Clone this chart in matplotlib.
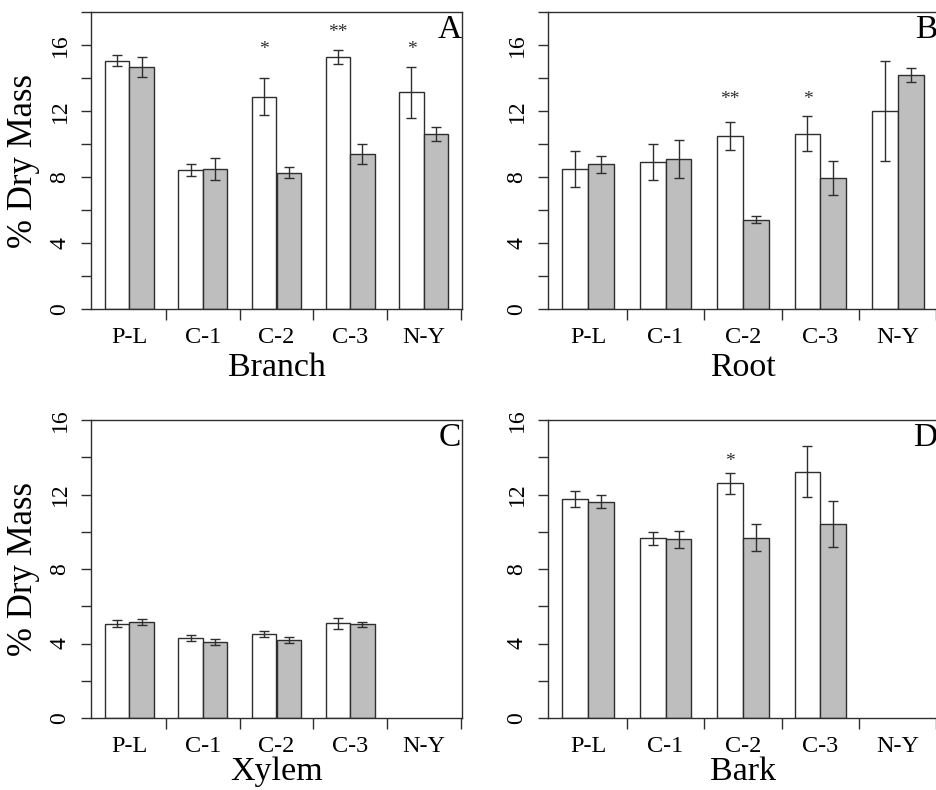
"""Four-panel grouped bar chart of % dry mass by tissue and site."""

import matplotlib
matplotlib.use("Agg")
import matplotlib.pyplot as plt
import numpy as np

plt.rcParams["font.family"] = ["Liberation Serif", "DejaVu Serif"]

SITES = ["P-L", "C-1", "C-2", "C-3", "N-Y"]

# Branch (A)
branch_white = [15.05, 8.41, 12.87, 15.27, 13.14]
branch_white_err = [0.33, 0.37, 1.12, 0.43, 1.55]
branch_grey = [14.69, 8.47, 8.27, 9.40, 10.61]
branch_grey_err = [0.60, 0.67, 0.34, 0.60, 0.40]
branch_stars = ["", "", "*", "**", "*"]
branch_star_y = [np.nan, np.nan, 15.95, 16.97, 15.95]

# Root (B)
root_white = [8.47, 8.90, 10.49, 10.61, 12.0]
root_white_err = [1.08, 1.11, 0.83, 1.06, 3.03]
root_grey = [8.76, 9.08, 5.41, 7.93, 14.18]
root_grey_err = [0.50, 1.15, 0.20, 1.01, 0.40]
root_stars = ["", "", "**", "*", ""]
root_star_y = [np.nan, np.nan, 12.93, 12.93, np.nan]

# Xylem (C)
xylem_white = [5.07, 4.30, 4.52, 5.09, np.nan]
xylem_white_err = [0.18, 0.18, 0.16, 0.30, np.nan]
xylem_grey = [5.16, 4.09, 4.19, 5.03, np.nan]
xylem_grey_err = [0.18, 0.16, 0.15, 0.13, np.nan]
xylem_stars = ["", "", "", "", ""]
xylem_star_y = [np.nan] * 5

# Bark (D)
bark_white = [11.77, 9.64, 12.61, 13.21, np.nan]
bark_white_err = [0.43, 0.33, 0.56, 1.37, np.nan]
bark_grey = [11.61, 9.59, 9.69, 10.43, np.nan]
bark_grey_err = [0.34, 0.45, 0.75, 1.23, np.nan]
bark_stars = ["", "", "*", "", ""]
bark_star_y = [np.nan, np.nan, 13.94, np.nan, np.nan]

LINE = "#2e2e2e"
GREY = "#BEBEBE"
W, H = 937, 790


def _panel(fig, rect, white, white_err, grey, grey_err, stars, star_y,
           xlabel, letter, ymax, ylabel=None, xlabel_y=-0.198):
    ax = fig.add_axes(rect)
    n = len(SITES)
    start = 1 + 3 * np.arange(n)
    xw = start + 0.5
    xg = start + 1.5

    ax.bar(xw, white, width=1.0, color="white", edgecolor=LINE, linewidth=1.0, zorder=2)
    ax.bar(xg, grey, width=1.0, color=GREY, edgecolor=LINE, linewidth=1.0, zorder=2)
    ax.errorbar(xw, white, yerr=white_err, fmt="none", ecolor=LINE,
                elinewidth=1.0, capsize=3.6, capthick=1.0, zorder=3)
    ax.errorbar(xg, grey, yerr=grey_err, fmt="none", ecolor=LINE,
                elinewidth=1.0, capsize=3.6, capthick=1.0, zorder=3)

    # significance marks above the white bars
    for x, s, y in zip(xw, stars, star_y):
        if s:
            ax.annotate(s, (x, y), xytext=(0, -2.5), textcoords="offset points",
                        ha="center", va="center", fontsize=14, color=LINE)

    ax.set_xlim(0.44, 15.56)
    ax.set_ylim(0, ymax)

    ax.set_xticks(start + 1.0)
    ax.set_xticklabels(SITES)
    ax.set_xticks(start + 2.5, minor=True)
    ax.tick_params(axis="x", which="major", length=0, pad=13, labelsize=17.5)
    ax.tick_params(axis="x", which="minor", length=8, width=1.0, color=LINE,
                   direction="out")

    ax.set_yticks(np.arange(0, 17, 4))
    ax.set_yticks(np.arange(2, ymax + 1, 4), minor=True)
    ax.tick_params(axis="y", which="both", length=7.2, width=1.0, color=LINE,
                   direction="out", pad=7.5, labelsize=17)
    for lab in ax.get_yticklabels():
        lab.set_rotation(90)
        lab.set_va("center")

    for sp in ax.spines.values():
        sp.set_color(LINE)
        sp.set_linewidth(1.0)

    ax.set_xlabel(xlabel, fontsize=24.5, va="center")
    ax.xaxis.set_label_coords(0.5, xlabel_y)
    if ylabel:
        ax.set_ylabel(ylabel, fontsize=25, va="center")
        ax.yaxis.set_label_coords(-0.181, 0.5)

    ax.text(0.998, 0.99, letter, transform=ax.transAxes, ha="right", va="top",
            fontsize=24)
    return ax


fig = plt.figure(figsize=(W / 100, H / 100), dpi=100)

top_b = 1 - 309 / H
top_h = (309 - 12) / H
bot_b = 1 - 718 / H
bot_h = (718 - 420) / H
left_l, left_w = 91 / W, 371 / W
right_l, right_w = 548 / W, 390 / W

_panel(fig, [left_l, top_b, left_w, top_h], branch_white, branch_white_err,
       branch_grey, branch_grey_err, branch_stars, branch_star_y,
       "Branch", "A", 18, ylabel="% Dry Mass")
_panel(fig, [right_l, top_b, right_w, top_h], root_white, root_white_err,
       root_grey, root_grey_err, root_stars, root_star_y,
       "Root", "B", 18)
_panel(fig, [left_l, bot_b, left_w, bot_h], xylem_white, xylem_white_err,
       xylem_grey, xylem_grey_err, xylem_stars, xylem_star_y,
       "Xylem", "C", 16, ylabel="% Dry Mass", xlabel_y=-0.18)
_panel(fig, [right_l, bot_b, right_w, bot_h], bark_white, bark_white_err,
       bark_grey, bark_grey_err, bark_stars, bark_star_y,
       "Bark", "D", 16, xlabel_y=-0.18)

fig.savefig("out.png", dpi=100)
plt.close(fig)
